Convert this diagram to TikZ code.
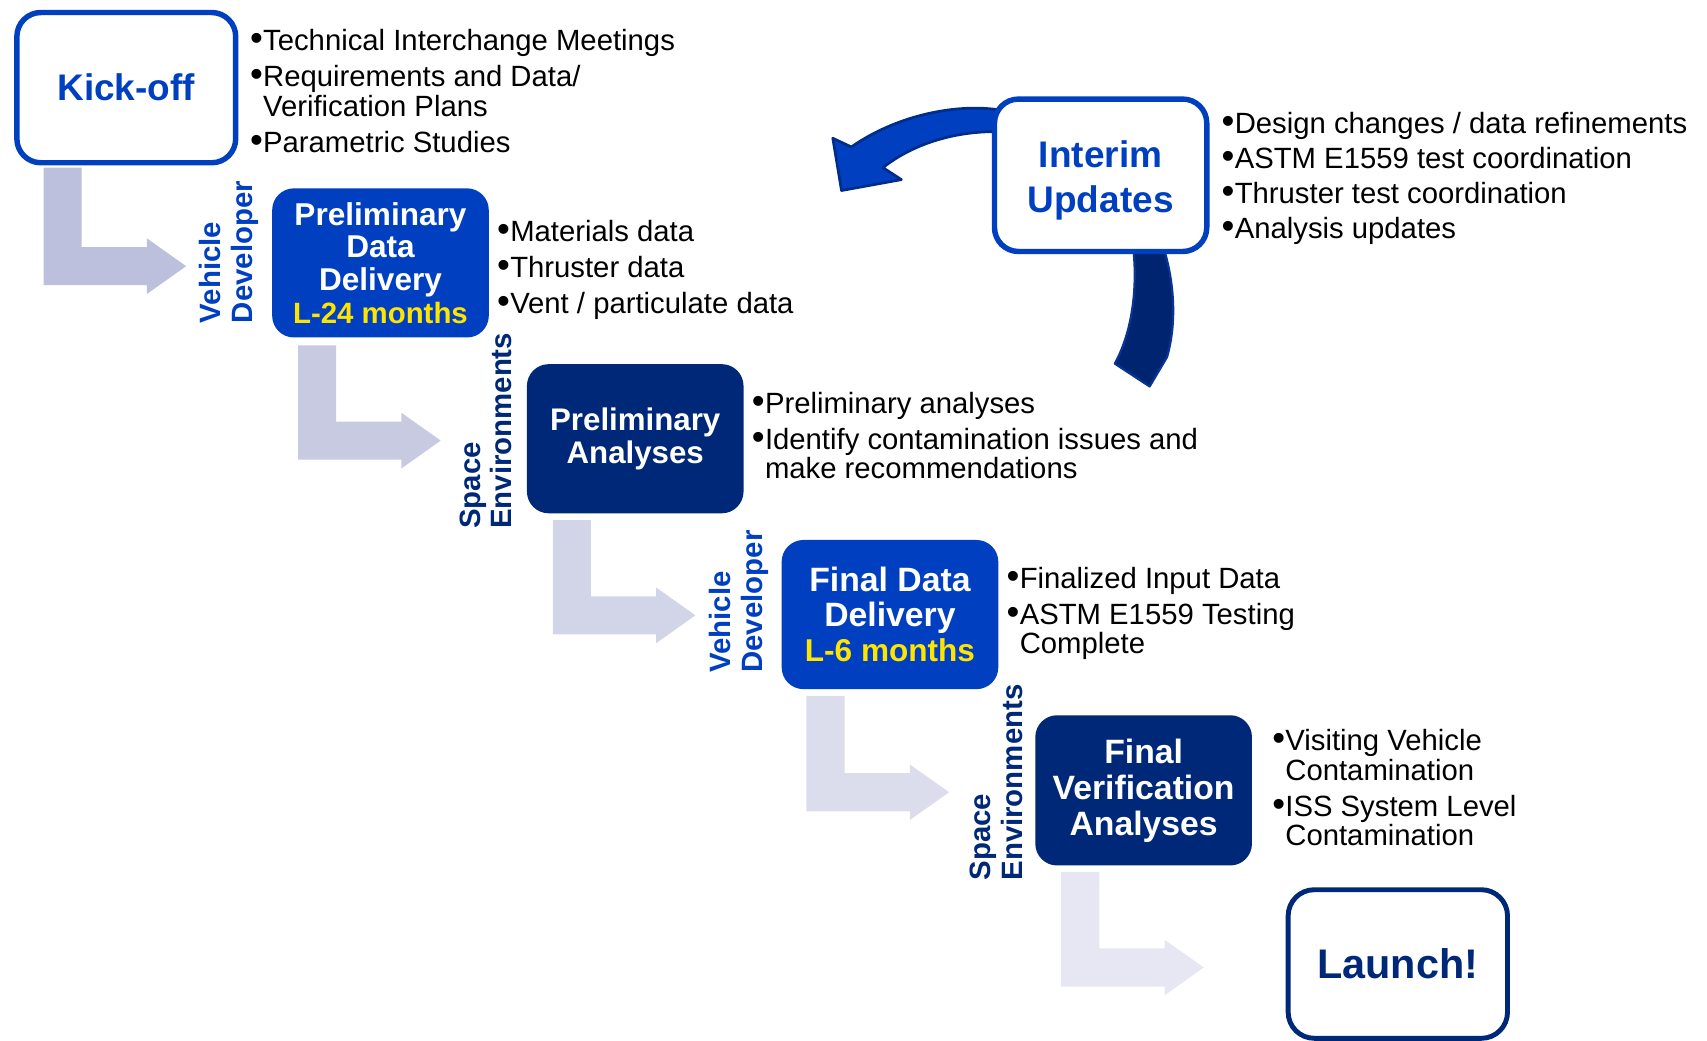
\documentclass[tikz,border=0pt]{standalone}
\usepackage{fontspec}
\setmainfont{Liberation Sans}
\usetikzlibrary{calc}

\definecolor{boxblue}{RGB}{0,64,192}
\definecolor{navy}{RGB}{0,40,120}
\definecolor{gold}{RGB}{255,228,0}
\definecolor{bandedge}{RGB}{0,44,140}
\definecolor{darkband}{RGB}{0,36,112}
\definecolor{darkbandedge}{RGB}{8,52,150}
\definecolor{stepA}{RGB}{188,192,220}
\definecolor{stepB}{RGB}{199,202,225}
\definecolor{stepC}{RGB}{210,212,231}
\definecolor{stepD}{RGB}{220,221,236}
\definecolor{stepE}{RGB}{230,231,242}

% bullet and hanging indent for the note lists
\newcommand\bl{\makebox[12pt][l]{\scalebox{1.25}{•}}}
\newcommand\bli{\hspace*{12pt}}

% L-shaped block arrow hanging below a stage box
% #1 source node, #2 colour, #3 x offset, #4 y offset, #5 drop
\newcommand\steparrow[5]{%
  \fill[#2] ([shift={(#3,#4)}]#1.south west) -- ++(35,0) -- ++(0,#5)
    -- ++(60,0) -- ++(0,-8) -- ++(36,25.5) -- ++(-36,25.5) -- ++(0,-8)
    -- ++(-95,0) -- cycle;}

\tikzset{
  stage/.style={rounded corners=20, minimum width=199, minimum height=137,
    text=white, align=center, inner sep=2,
    font=\bfseries\fontsize{29}{30}\selectfont},
  devbox/.style={stage, fill=boxblue},
  envbox/.style={stage, fill=navy},
  milestone/.style={rounded corners=22, line width=5, fill=white,
    align=center, inner sep=2, font=\bfseries\fontsize{34}{41}\selectfont},
  notes/.style={anchor=north west, align=left, inner sep=0,
    font=\fontsize{26.9}{27}\selectfont},
  role/.style={rotate=90, anchor=base west, inner sep=0,
    font=\bfseries\fontsize{27}{30}\selectfont},
}

\begin{document}
\begin{tikzpicture}[x=1pt,y=-1pt]
\useasboundingbox (0,0) rectangle (1568,956);

% curved feedback arrows leaving the interim box
\path[fill=boxblue, draw=bandedge, line width=2.5, line join=round]
  (918,101) .. controls (880,95) and (825,105) .. (782,135)
  -- (765,127) -- (773,175) -- (828,165) -- (811,154)
  .. controls (840,131) and (880,120) .. (918,121) -- cycle;
\path[fill=darkband, draw=darkbandedge, line width=2, line join=round]
  (1041,228) -- (1069,228)
  .. controls (1080,265) and (1080,300) .. (1072,328)
  -- (1056,355) -- (1024,334)
  .. controls (1040,305) and (1045,265) .. (1041,228) -- cycle;

% milestone boxes
\node[milestone, draw=boxblue, text=boxblue, minimum width=201,
  minimum height=138] (kick) at (116,80.5) {Kick-off};
\node[milestone, draw=boxblue, text=boxblue, minimum width=195,
  minimum height=140] (interim) at (1011,161)
  {\raisebox{-4.5pt}[\height][\depth]{\parbox{180pt}{\centering Interim\\Updates}}};
\node[milestone, draw=navy, text=navy, line width=4.5, rounded corners=24,
  minimum width=201.5, minimum height=136.5,
  font=\bfseries\fontsize{38}{40}\selectfont] (launch) at (1284,885.5) {Launch!};

% stage boxes
\node[devbox] (pdd) at (349.5,241.5)
  {Preliminary\\Data\\Delivery\\{\color{gold}\fontsize{27}{30}\selectfont L-24 months}};
\node[envbox, font=\bfseries\fontsize{28.7}{30}\selectfont] (pa) at (583.5,403)
  {Preliminary\\Analyses};
\node[devbox, font=\bfseries\fontsize{31}{32}\selectfont] (fdd) at (817.5,564.5)
  {Final Data\\Delivery\\{\color{gold}\fontsize{29}{32}\selectfont L-6 months}};
\node[envbox, minimum height=138, font=\bfseries\fontsize{31}{33}\selectfont]
  (fva) at (1050.5,726) {Final\\Verification\\Analyses};

% step arrows between stages
\steparrow{kick}{stepA}{27}{2}{73}
\steparrow{pdd}{stepB}{24}{7}{70}
\steparrow{pa}{stepC}{24}{6}{70}
\steparrow{fdd}{stepD}{23}{6}{71}
\steparrow{fva}{stepE}{24}{6}{70}

% responsible parties
\node[role, text=boxblue] (vd1a) at (203,297) {Vehicle};
\node[role, text=boxblue] (vd1b) at (232,297) {Developer};
\node[role, text=navy] (se1a) at (441,486) {Space};
\node[role, text=navy] (se1b) at (470,486) {Environments};
\node[role, text=boxblue] (vd2a) at (671,618) {Vehicle};
\node[role, text=boxblue] (vd2b) at (700,618) {Developer};
\node[role, text=navy] (se2a) at (910,809) {Space};
\node[role, text=navy] (se2b) at (939,809) {Environments};

% notes
\node[notes] (kicknotes) at (229.5,27)
  {\bl Technical Interchange Meetings\\[6pt]
   \bl Requirements and Data/\\
   \bli Verification Plans\\[6pt]
   \bl Parametric Studies};
\node[notes] (pddnotes) at (456.5,202)
  {\bl Materials data\\[6pt]
   \bl Thruster data\\[6pt]
   \bl Vent / particulate data};
\node[notes] (panotes) at (690.5,360)
  {\bl Preliminary analyses\\[6pt]
   \bl Identify contamination issues and\\
   \bli make recommendations};
\node[notes] (fddnotes) at (924.5,521)
  {\bl Finalized Input Data\\[6pt]
   \bl ASTM E1559 Testing\\
   \bli Complete};
\node[notes] (fvanotes) at (1168.5,670)
  {\bl Visiting Vehicle\\
   \bli Contamination\\[6pt]
   \bl ISS System Level\\
   \bli Contamination};
\node[notes] (interimnotes) at (1122,103)
  {\bl Design changes / data refinements\\[5pt]
   \bl ASTM E1559 test coordination\\[5pt]
   \bl Thruster test coordination\\[5pt]
   \bl Analysis updates};
\end{tikzpicture}
\end{document}
